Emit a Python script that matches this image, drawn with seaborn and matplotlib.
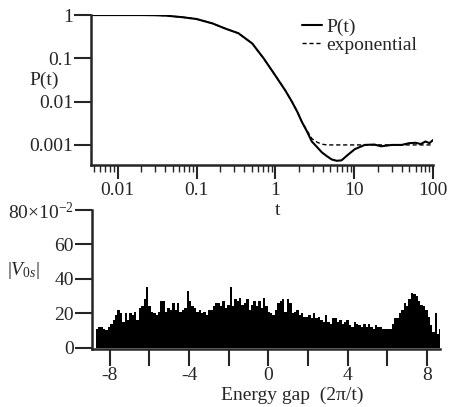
import numpy as np
import pandas as pd
import matplotlib
matplotlib.use("Agg")
import matplotlib.pyplot as plt
from matplotlib.ticker import FixedLocator, NullFormatter, LogLocator
import seaborn as sns

# top panel: survival probability P(t) and its exponential fit
t_vals = [0.0046, 0.01, 0.02, 0.03, 0.041, 0.067, 0.1, 0.16, 0.23, 0.34, 0.51,
          0.71, 1.0, 1.34, 1.62, 1.9, 2.17, 2.5, 2.9, 3.4, 3.9, 4.5, 5.2, 6.0,
          6.9, 8.4, 10.2, 13.6, 18, 22, 30, 40, 50, 60, 70, 80, 90, 100]
p_vals = [1.0, 1.0, 1.0, 0.99, 0.97, 0.89, 0.81, 0.64, 0.49, 0.38, 0.22,
          0.1, 0.04, 0.018, 0.01, 0.0058, 0.0034, 0.0021, 0.0012, 0.00088, 0.00067, 0.00055, 0.00046, 0.00043,
          0.00044, 0.0006, 0.0008, 0.001, 0.00102, 0.00093, 0.001, 0.001, 0.0011, 0.00112, 0.00105, 0.0012, 0.0011, 0.0013]
exp_vals = [1.0, 1.0, 1.0, 0.99, 0.97, 0.89, 0.81, 0.64, 0.49, 0.38, 0.22,
            0.1, 0.04, 0.018, 0.01, 0.0058, 0.0034, 0.0022, 0.0014, 0.00115, 0.00104, 0.001, 0.001, 0.001,
            0.001, 0.001, 0.001, 0.001, 0.001, 0.001, 0.001, 0.001, 0.001, 0.001, 0.001, 0.001, 0.001, 0.001]

# bottom panel: |V_0s| (x1e-2) vs energy gap
gap_lo, gap_hi = -8.7, 8.75
v_heights = [11, 12, 12, 11, 10, 12,
             14, 16, 19, 22,
             20, 15, 20, 16, 20, 19,
             21, 16, 23, 24,
             28, 35, 24,
             21, 20, 19, 21, 27, 27,
             21, 23, 22, 26, 22, 26,
             21, 22, 23,
             33, 27, 24,
             23, 21, 22, 20, 21, 19,
             22, 22, 24, 26, 26, 24,
             27, 23, 25,
             35, 24,
             28, 27, 29, 25, 26, 28,
             22, 25, 27, 24, 27, 23,
             29, 24, 21, 20,
             19, 22, 26, 27, 28, 21,
             28, 26, 20, 21, 22, 19,
             20, 18, 18, 19, 17, 20,
             17, 18, 16, 15, 19, 15,
             14, 17, 17, 15, 16, 14,
             15, 16, 13, 12, 15, 14,
             13, 12, 14, 12, 14, 12,
             11, 13, 12, 12, 11, 11,
             11, 11, 14, 17,
             17, 20, 22, 26, 24,
             28, 32, 31, 30,
             27, 25, 24, 22,
             18, 13, 9,
             20, 8, 11]

sns.set_theme(style="ticks")
plt.rcParams["font.family"] = ["Liberation Serif", "DejaVu Serif"]
plt.rcParams["mathtext.fontset"] = "custom"
plt.rcParams["mathtext.rm"] = "Liberation Serif"
plt.rcParams["mathtext.it"] = "Liberation Serif:italic"
fs = 14

fig = plt.figure(figsize=(4.53, 4.07), dpi=100)
ax1 = fig.add_axes([0.201, 0.595, 0.755, 0.368])
ax2 = fig.add_axes([0.203, 0.1425, 0.768, 0.3415])
ax2.patch.set_visible(False)  # don't hide the "t" label of the top panel

df_top = pd.DataFrame({"t": t_vals, "P(t)": p_vals, "exponential": exp_vals})
sns.lineplot(data=df_top, x="t", y="P(t)", ax=ax1, color="black", lw=1.5, label="P(t)")
sns.lineplot(data=df_top, x="t", y="exponential", ax=ax1, color="black", lw=1.0,
             linestyle=(0, (3, 2)), label="exponential")
ax1.set_xscale("log")
ax1.set_yscale("log")
ax1.set_xlim(0.0046, 100)
ax1.set_ylim(10 ** -3.46, 1)
ax1.xaxis.set_major_locator(FixedLocator([0.01, 0.1, 1, 10, 100]))
ax1.set_xticklabels(["0.01", "0.1", "1", "10", "100"])
ax1.xaxis.set_minor_locator(LogLocator(base=10, subs=np.arange(2, 10)))
ax1.xaxis.set_minor_formatter(NullFormatter())
ax1.yaxis.set_major_locator(FixedLocator([0.001, 0.01, 0.1, 1]))
ax1.set_yticklabels(["0.001", "0.01", "0.1", "1"])
ax1.yaxis.set_minor_locator(FixedLocator([]))
ax1.tick_params(axis="x", which="major", length=10, width=1.5, labelsize=fs, pad=2)
ax1.tick_params(axis="x", which="minor", length=5, width=1.0)
ax1.tick_params(axis="y", which="major", length=12, width=1.5, labelsize=fs, pad=1)
ax1.set_xlabel("t", fontsize=fs)
ax1.xaxis.set_label_coords(0.544, -0.25)
ax1.set_ylabel("P(t)", fontsize=fs, rotation=0, va="center", ha="center")
ax1.yaxis.set_label_coords(-0.137, 0.567)
sns.despine(ax=ax1)
for s in ["left", "bottom"]:
    ax1.spines[s].set_linewidth(1.8)
ax1.legend(loc="upper left", bbox_to_anchor=(0.594, 1.03), frameon=False, fontsize=fs,
           handlelength=1.05, handletextpad=0.2, labelspacing=0.0, borderaxespad=0)

edges = np.linspace(gap_lo, gap_hi, len(v_heights) + 1)
df_bot = pd.DataFrame({"gap": (edges[:-1] + edges[1:]) / 2, "v": v_heights})
sns.histplot(data=df_bot, x="gap", weights="v", bins=list(edges), ax=ax2, color="black",
             alpha=1, linewidth=0, element="bars")
ax2.set_xlim(-8.9, 8.65)
ax2.set_ylim(-0.8, 80)
ax2.set_xticks(np.arange(-8, 9, 2))
ax2.set_xticklabels(["-8", "", "-4", "", "0", "", "4", "", "8"])
ax2.set_yticks([0, 20, 40, 60, 80])
ax2.set_yticklabels(["0", "20", "40", "60", r"80$\times$10$^{-2}$"])
ax2.tick_params(axis="x", length=12, width=1.5, labelsize=fs, pad=1)
ax2.tick_params(axis="y", length=12, width=1.5, labelsize=fs, pad=1)
ax2.set_xlabel("Energy gap  (2\u03c0/t)", fontsize=fs)
ax2.xaxis.set_label_coords(0.576, -0.27)
ax2.set_ylabel(r"|$V_{0s}$|", fontsize=fs, rotation=0, va="center", ha="center")
ax2.yaxis.set_label_coords(-0.198, 0.568)
sns.despine(ax=ax2)
for s in ["left", "bottom"]:
    ax2.spines[s].set_linewidth(1.8)

fig.savefig("out.png", dpi=100)
